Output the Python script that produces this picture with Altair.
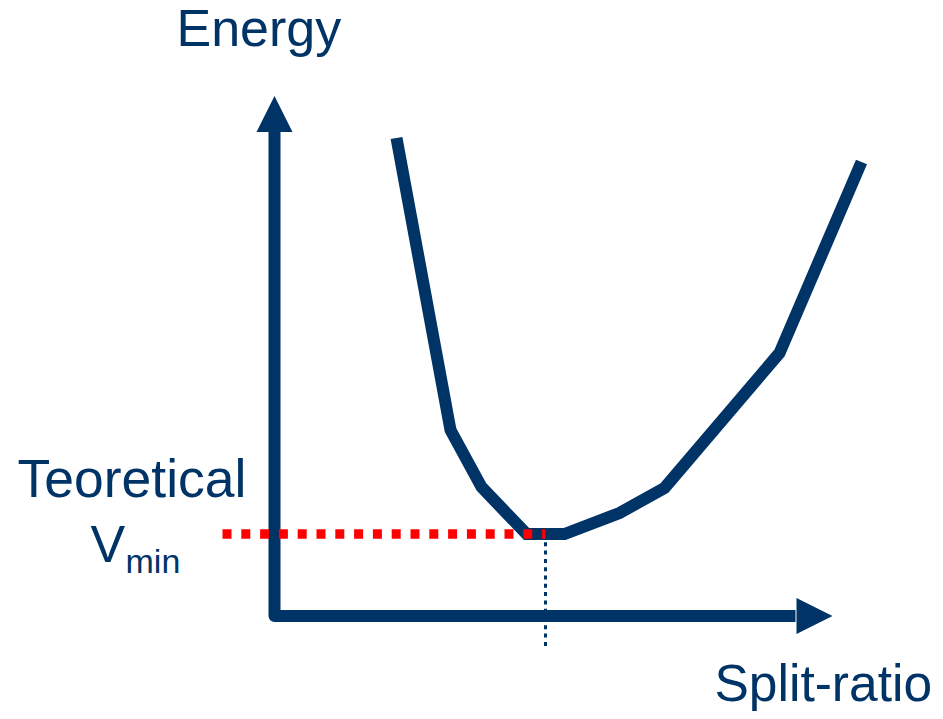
import altair as alt
import pandas as pd

NAVY = "#003366"
RED = "#FF0000"

# Energy curve (diagram units: origin at the axis corner)
curve_x = [122, 176, 207, 252, 290, 345, 390, 505, 587]
curve_y = [478, 186, 129, 82, 82, 103, 128, 263, 454]

# Axis path (vertical arrow shaft, corner, horizontal arrow shaft)
axis_x = [0, 0, 521]
axis_y = [487, 0, 0]

# Arrow heads
head_x = [0, 540]
head_y = [502, 0]
head_shape = ["M0,-1L1,1L-1,1Z", "M1,0L-1,-1L-1,1Z"]

# Theoretical minimum
vmin_y = 82
vmin_x = 271
red_x_start = -52
tick_y_end = -31

# Labels
label_text = ["Energy", "Split-ratio", "Teoretical", "V", "min"]
label_x = [-98, 440, -257, -184, -149]
label_y = [570, -85, 119, 54, 43]
label_size = [52, 51.5, 53.5, 52, 34]

xs = alt.Scale(domain=[-266.5, 660.5], nice=False, zero=False)
ys = alt.Scale(domain=[-95, 608], nice=False, zero=False)

curve_df = pd.DataFrame({"x": curve_x, "y": curve_y, "o": range(len(curve_x))})
axis_df = pd.DataFrame({"x": axis_x, "y": axis_y, "o": range(len(axis_x))})

axes_line = alt.Chart(axis_df).mark_line(
    color=NAVY, strokeWidth=12, strokeJoin="round", strokeCap="butt"
).encode(
    x=alt.X("x:Q", scale=xs, axis=None),
    y=alt.Y("y:Q", scale=ys, axis=None),
    order="o:O",
)

heads = []
for hx, hy, hs in zip(head_x, head_y, head_shape):
    heads.append(
        alt.Chart(pd.DataFrame({"x": [hx], "y": [hy]})).mark_point(
            shape=hs, size=1296, filled=True, color=NAVY, opacity=1, strokeWidth=0
        ).encode(
            x=alt.X("x:Q", scale=xs, axis=None),
            y=alt.Y("y:Q", scale=ys, axis=None),
        )
    )

tick_line = alt.Chart(pd.DataFrame({"x": [vmin_x], "y": [vmin_y], "y2": [tick_y_end]})).mark_rule(
    color=NAVY, strokeWidth=3, strokeDash=[4, 4.3]
).encode(
    x=alt.X("x:Q", scale=xs, axis=None),
    y=alt.Y("y:Q", scale=ys, axis=None),
    y2="y2:Q",
)

curve = alt.Chart(curve_df).mark_line(
    color=NAVY, strokeWidth=12, strokeJoin="miter", strokeCap="butt"
).encode(
    x=alt.X("x:Q", scale=xs, axis=None),
    y=alt.Y("y:Q", scale=ys, axis=None),
    order="o:O",
)

red_line = alt.Chart(pd.DataFrame({"x": [red_x_start], "x2": [vmin_x], "y": [vmin_y]})).mark_rule(
    color=RED, strokeWidth=9.5, strokeDash=[9, 9.8]
).encode(
    x=alt.X("x:Q", scale=xs, axis=None),
    x2="x2:Q",
    y=alt.Y("y:Q", scale=ys, axis=None),
)

texts = []
for t, tx, ty, ts in zip(label_text, label_x, label_y, label_size):
    texts.append(
        alt.Chart(pd.DataFrame({"x": [tx], "y": [ty], "t": [t]})).mark_text(
            align="left", baseline="alphabetic", font="Liberation Sans",
            fontSize=ts, color=NAVY
        ).encode(
            x=alt.X("x:Q", scale=xs, axis=None),
            y=alt.Y("y:Q", scale=ys, axis=None),
            text="t:N",
        )
    )

chart = alt.layer(axes_line, *heads, tick_line, curve, red_line, *texts).properties(
    width=927, height=703, padding=0, autosize=alt.AutoSizeParams(type="none")
).configure_view(stroke=None)

chart.save("out.html", embed_options={"renderer": "svg", "actions": False})
